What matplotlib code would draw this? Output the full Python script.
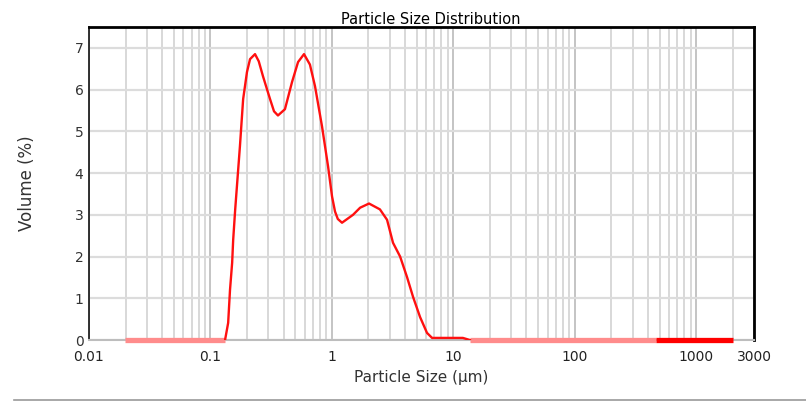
import matplotlib.pyplot as plt
from matplotlib.lines import Line2D
from matplotlib.ticker import LogLocator, NullFormatter

# Measured distribution: particle size (µm) and volume (%)
size_um = [0.132, 0.140, 0.145, 0.151, 0.154, 0.160, 0.166, 0.175, 0.186, 0.200,
           0.212, 0.233, 0.250, 0.271, 0.310, 0.334, 0.360, 0.411, 0.470, 0.527,
           0.590, 0.660, 0.727, 0.830, 0.931, 1.004, 1.062, 1.120, 1.213, 1.495,
           1.710, 2.025, 2.490, 2.850, 3.190, 3.650, 4.160, 4.670, 5.330, 6.080,
           6.690, 8.000, 10.00, 12.00, 13.70]
volume = [0.00, 0.41, 1.20, 1.85, 2.40, 3.13, 3.75, 4.64, 5.77, 6.42,
          6.73, 6.85, 6.68, 6.32, 5.77, 5.48, 5.38, 5.53, 6.18, 6.66,
          6.85, 6.60, 6.08, 5.12, 4.16, 3.44, 3.08, 2.90, 2.81, 3.00,
          3.17, 3.27, 3.13, 2.88, 2.33, 2.00, 1.51, 1.03, 0.55, 0.17,
          0.05, 0.05, 0.05, 0.05, 0.00]

# Size ranges where the volume is zero
zero_faint = [(0.0198, 0.132), (13.7, 468)]
zero_solid = [(468, 2018)]

# Axis ticks
x_ticks = [0.01, 0.1, 1, 10, 100, 1000, 3000]
x_labels = ['0.01', '0.1', '1', '10', '100', '1000', '3000']
y_ticks = [0, 1, 2, 3, 4, 5, 6, 7]

fig = plt.figure(figsize=(8.06, 4.01), dpi=100)
ax = fig.add_axes([89 / 806, 1 - 340 / 401, 665 / 806, 313 / 401])

# curve
ax.plot(size_um, volume, color='#ff1010', lw=1.7, zorder=4, solid_joinstyle='round')

# zero stretches drawn as thick bands along the baseline
for lo, hi in zero_faint:
    ax.plot([lo, hi], [0, 0], color='#ff8c8c', lw=3.8, solid_capstyle='butt',
            clip_on=False, zorder=3)
for lo, hi in zero_solid:
    ax.plot([lo, hi], [0, 0], color='#ff0000', lw=3.8, solid_capstyle='butt',
            clip_on=False, zorder=3)

ax.set_xscale('log')
ax.set_xlim(0.01, 3000)
ax.set_ylim(0, 7.5)
ax.set_xticks(x_ticks)
ax.set_xticklabels(x_labels)
ax.xaxis.set_minor_locator(LogLocator(base=10, subs=range(2, 10), numticks=20))
ax.xaxis.set_minor_formatter(NullFormatter())
ax.set_yticks(y_ticks)

# grid
ax.grid(True, axis='x', which='major', color='#c4c4c4', lw=1.4, zorder=0)
ax.grid(True, axis='x', which='minor', color='#d2d2d2', lw=1.2, zorder=0)
ax.grid(True, axis='y', which='major', color='#dcdcdc', lw=1.6, zorder=0)
ax.set_axisbelow(True)

ax.tick_params(which='both', length=0)
ax.tick_params(axis='x', pad=7, labelsize=10, labelcolor='#222222')
ax.tick_params(axis='y', pad=4, labelsize=10, labelcolor='#333333')

for side in ['top', 'right']:
    ax.spines[side].set_color('black')
    ax.spines[side].set_linewidth(2.0)
ax.spines['left'].set_color('#222222')
ax.spines['left'].set_linewidth(1.3)
ax.spines['bottom'].set_color('#bdbdbd')
ax.spines['bottom'].set_linewidth(1.5)

ax.set_title('Particle Size Distribution', fontsize=10.5, pad=1, x=0.514)
ax.set_xlabel('Particle Size (µm)', fontsize=11, color='#333333')
ax.set_ylabel('Volume (%)', fontsize=12, color='#333333')
ax.xaxis.set_label_coords(0.5, -0.095)
ax.yaxis.set_label_coords(-0.08, 0.5)

# separator line along the bottom of the figure
fig.add_artist(Line2D([14 / 806, 1], [0.0025, 0.0025], color='#9a9a9a', lw=1.2,
                      transform=fig.transFigure))

fig.savefig('out.png', dpi=100)
